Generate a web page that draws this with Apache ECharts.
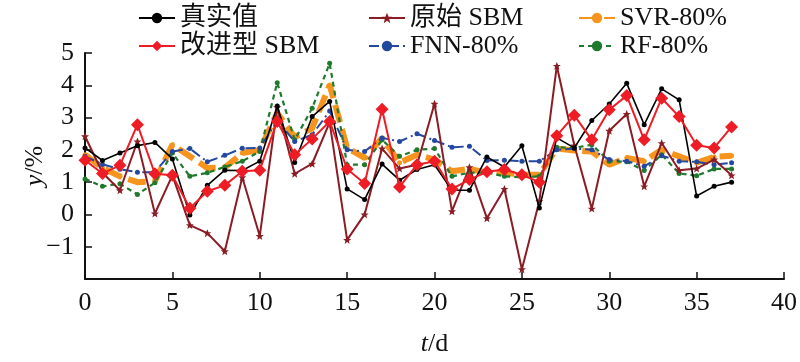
<!DOCTYPE html>
<html><head><meta charset="utf-8">
<script src="https://cdn.jsdelivr.net/npm/echarts@6/dist/echarts.min.js"></script>
<style>html,body{margin:0;padding:0;background:#fff}#c{width:800px;height:362px}</style>
</head><body><div id="c"></div>
<script>
const days = [0,1,2,3,4,5,6,7,8,9,10,11,12,13,14,15,16,17,18,19,20,21,22,23,24,25,26,27,28,29,30,31,32,33,34,35,36,37];
const actual   = [2.06,1.67,1.9,2.13,2.23,1.72,-0.02,0.9,1.37,1.36,1.65,3.36,1.61,3.03,3.5,0.79,0.46,1.56,1.06,1.39,1.54,0.75,0.75,1.78,1.47,2.13,0.2,2.37,2.06,2.91,3.42,4.06,2.78,3.89,3.55,0.57,0.87,1.0];
const improved = [1.68,1.27,1.52,2.78,1.26,1.21,0.19,0.72,0.9,1.34,1.37,2.88,1.85,2.34,2.88,1.41,0.96,3.26,0.85,1.54,1.65,0.79,1.08,1.32,1.39,1.23,1.0,2.44,3.07,2.31,3.24,3.68,2.31,3.6,3.03,2.14,2.06,2.71];
const original = [2.42,1.29,0.75,2.26,0.03,1.21,-0.33,-0.58,-1.14,1.15,-0.67,3.32,1.26,1.57,2.85,-0.79,0.0,2.04,1.42,1.54,3.43,0.1,1.46,-0.12,0.79,-1.7,0.41,4.6,2.14,0.18,2.59,3.11,0.87,2.21,1.37,1.42,1.7,1.21];
const svr      = [1.85,1.44,1.18,1.0,1.03,2.16,1.8,1.44,1.45,1.9,2.0,3.14,2.4,2.67,4.01,2.06,1.75,2.37,1.6,1.85,1.7,1.34,1.41,1.29,1.29,1.23,1.23,2.04,1.98,1.95,1.54,1.75,1.65,2.0,1.8,1.6,1.78,1.82];
const fnn      = [1.8,1.55,1.4,1.31,1.31,1.95,2.04,1.63,1.83,2.05,2.06,2.9,2.26,2.47,3.2,2.0,1.95,2.37,2.26,2.5,2.29,2.08,2.11,1.67,1.68,1.65,1.65,2.0,2.04,2.0,1.7,1.65,1.49,1.82,1.65,1.63,1.54,1.6];
const rf       = [1.1,0.87,0.95,0.62,0.98,1.9,1.18,1.29,1.47,1.65,1.95,4.08,2.31,3.29,4.68,1.54,1.54,2.31,1.8,2.0,2.04,1.18,1.29,1.3,1.18,1.15,1.18,2.08,2.06,2.16,1.65,1.63,1.36,1.85,1.27,1.2,1.41,1.41];
const seriesNames = ['真实值','改进型 SBM','原始 SBM','FNN-80%','SVR-80%','RF-80%'];
const xTicks = [0,5,10,15,20,25,30,35,40];
const yTicks = [-2,-1,0,1,2,3,4,5];

const FONT = '"Liberation Serif", "Times New Roman", "Noto Sans CJK SC", serif';
const pair = a => days.map((d,i)=>[d,a[i]]);
const chart = echarts.init(document.getElementById('c'), null, {renderer:'canvas'});

function mkLegend(name, left, top){
  return {data:[name], left:left, top:top, itemWidth:36, itemHeight:13,
    textStyle:{fontFamily:FONT, fontSize:26, color:'#111'}, itemGap:0, padding:0};
}

chart.setOption({
  animation:false,
  backgroundColor:'#fff',
  textStyle:{fontFamily:FONT},
  legend:[
    mkLegend(seriesNames[0],138,5), mkLegend(seriesNames[1],138,33),
    mkLegend(seriesNames[2],368,5), mkLegend(seriesNames[3],368,33),
    mkLegend(seriesNames[4],578,5), mkLegend(seriesNames[5],578,33)
  ],
  grid:{left:85, right:14, top:53, bottom:82, containLabel:false},
  xAxis:{type:'value', min:xTicks[0], max:xTicks[xTicks.length-1], interval:5,
    name:'{i|t}/d', nameLocation:'middle', nameGap:52, nameMoveOverlap:false,
    nameTextStyle:{fontFamily:FONT, fontSize:26, color:'#111', rich:{i:{fontStyle:'italic', fontFamily:FONT, fontSize:26, color:'#111'}}},
    axisLine:{show:true, onZero:false, lineStyle:{color:'#111', width:2}},
    axisTick:{inside:true, length:7, lineStyle:{color:'#111', width:1.5}},
    axisLabel:{fontFamily:FONT, fontSize:26, color:'#111', margin:11},
    splitLine:{show:false}},
  yAxis:{type:'value', min:yTicks[0], max:yTicks[yTicks.length-1], interval:1,
    name:'{i|y}/%', nameLocation:'middle', nameGap:37, nameRotate:90, nameMoveOverlap:false,
    nameTextStyle:{fontFamily:FONT, fontSize:26, color:'#111', rich:{i:{fontStyle:'italic', fontFamily:FONT, fontSize:26, color:'#111'}}},
    axisLine:{show:true, onZero:false, lineStyle:{color:'#111', width:2}},
    axisTick:{inside:true, length:7, lineStyle:{color:'#111', width:1.5}},
    axisLabel:{fontFamily:FONT, fontSize:26, color:'#111', margin:11,
      formatter:v => v===yTicks[0] ? '' : String(v).replace('-','−')},
    splitLine:{show:false}},
  series:[
    {name:seriesNames[4], type:'line', data:pair(svr), z:2, symbol:'circle', symbolSize:5,
      lineStyle:{color:'#f7941d', width:6, type:[18,7]}, itemStyle:{color:'#f7941d'}},
    {name:seriesNames[5], type:'line', data:pair(rf), z:3, symbol:'circle', symbolSize:5,
      lineStyle:{color:'#1f7a2e', width:2.2, type:[5,4]}, itemStyle:{color:'#1f7a2e'}},
    {name:seriesNames[3], type:'line', data:pair(fnn), z:4, symbol:'circle', symbolSize:5,
      lineStyle:{color:'#2348a0', width:2, type:[10,4,2,4]}, itemStyle:{color:'#2348a0'}},
    {name:seriesNames[2], type:'line', data:pair(original), z:5, symbol:'path://M0,-10 L2.9,-3.1 L9.5,-3.1 L4.2,1.2 L5.9,8.1 L0,4 L-5.9,8.1 L-4.2,1.2 L-9.5,-3.1 L-2.9,-3.1 Z', symbolSize:8,
      lineStyle:{color:'#8b1c24', width:2}, itemStyle:{color:'#8b1c24'}},
    {name:seriesNames[0], type:'line', data:pair(actual), z:6, symbol:'circle', symbolSize:5,
      lineStyle:{color:'#000', width:1.6}, itemStyle:{color:'#000'}},
    {name:seriesNames[1], type:'line', data:pair(improved), z:7, symbol:'diamond', symbolSize:13,
      lineStyle:{color:'#ee1c25', width:2}, itemStyle:{color:'#ee1c25'}}
  ]
});
</script></body></html>
